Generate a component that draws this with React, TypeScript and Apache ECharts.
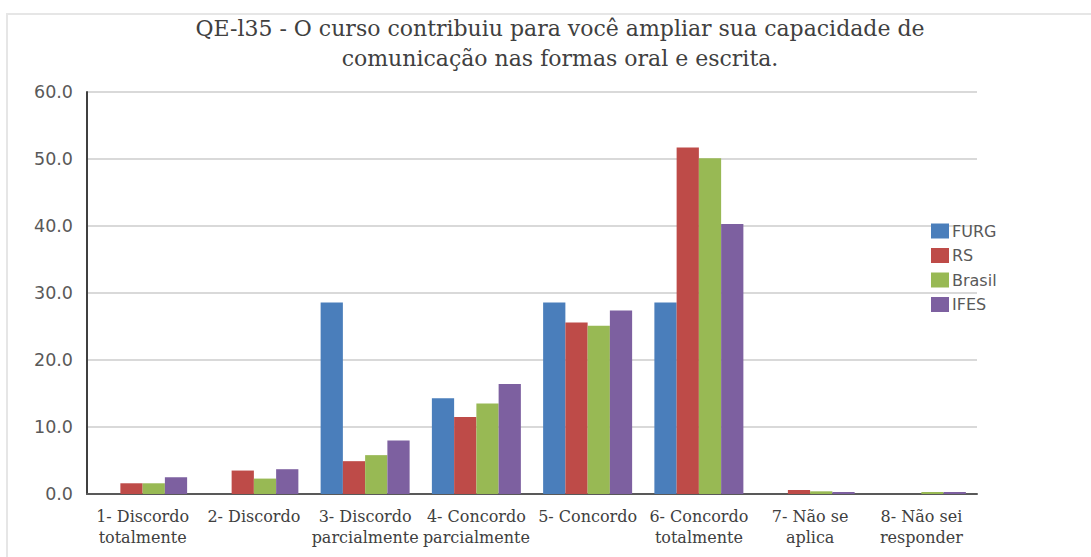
import React, { useEffect, useRef } from "react";
import * as echarts from "echarts";

const categories = [
  "1- Discordo\ntotalmente",
  "2- Discordo",
  "3- Discordo\nparcialmente",
  "4- Concordo\nparcialmente",
  "5- Concordo",
  "6- Concordo\ntotalmente",
  "7- Não se\naplica",
  "8- Não sei\nresponder",
];
const furg = [0, 0, 28.6, 14.3, 28.6, 28.6, 0, 0];
const rs = [1.6, 3.5, 4.9, 11.5, 25.6, 51.7, 0.6, 0];
const brasil = [1.6, 2.3, 5.8, 13.5, 25.1, 50.1, 0.4, 0.3];
const ifes = [2.5, 3.7, 8.0, 16.4, 27.4, 40.3, 0.3, 0.3];
const seriesNames = ["FURG", "RS", "Brasil", "IFES"];
const colors = ["#4a7ebb", "#be4b48", "#98b954", "#7d60a0"];
const titleText =
  "QE-l35 - O curso contribuiu para você ampliar sua capacidade de\ncomunicação nas formas oral e escrita.";

export default function App() {
  const ref = useRef<HTMLDivElement>(null);
  useEffect(() => {
    if (!ref.current) return;
    const chart = echarts.init(ref.current, null, { renderer: "svg" });
    const data = [furg, rs, brasil, ifes];
    chart.setOption({
      animation: false,
      backgroundColor: "#ffffff",
      title: {
        text: titleText,
        left: 555,
        textAlign: "center",
        top: 8,
        textStyle: {
          fontFamily: "DejaVu Serif",
          fontSize: 22,
          fontWeight: "normal",
          color: "#404040",
          lineHeight: 30,
        },
      },
      graphic: [
        {
          type: "rect",
          shape: { x: 7, y: 14, width: 1200, height: 700 },
          style: { fill: "none", stroke: "#e6e6e6", lineWidth: 2 },
          silent: true,
          z: -1,
        },
      ],
      legend: {
        orient: "vertical",
        left: 926,
        top: 218,
        itemWidth: 18,
        itemHeight: 15,
        itemGap: 8.5,
        icon: "rect",
        textStyle: { fontFamily: "DejaVu Sans", fontSize: 16, color: "#595959", padding: [0, 0, 0, -2] },
        data: seriesNames,
      },
      grid: { left: 87, right: 114, top: 92, bottom: 63, containLabel: false },
      xAxis: {
        type: "category",
        data: categories,
        axisLine: { lineStyle: { color: "#595959", width: 2 } },
        axisTick: { show: false },
        axisLabel: {
          interval: 0,
          margin: 12,
          fontFamily: "DejaVu Serif",
          fontSize: 16,
          lineHeight: 21,
          color: "#404040",
        },
      },
      yAxis: {
        type: "value",
        min: 0,
        max: 60,
        interval: 10,
        axisLine: { show: true, lineStyle: { color: "#404040", width: 2 } },
        axisTick: { show: false },
        splitLine: { lineStyle: { color: "#d9d9d9", width: 2 } },
        axisLabel: {
          margin: 14,
          fontFamily: "DejaVu Sans",
          fontSize: 17.5,
          color: "#595959",
          formatter: (v: number) => v.toFixed(1),
        },
      },
      series: seriesNames.map((name, i) => ({
        name,
        type: "bar",
        data: data[i],
        barGap: "0%",
        barCategoryGap: "20%",
        itemStyle: { color: colors[i] },
      })),
    });
    return () => chart.dispose();
  }, []);
  return (
    <div
      ref={ref}
      style={{ position: "absolute", left: 0, top: 0, width: 1091, height: 557 }}
    />
  );
}
